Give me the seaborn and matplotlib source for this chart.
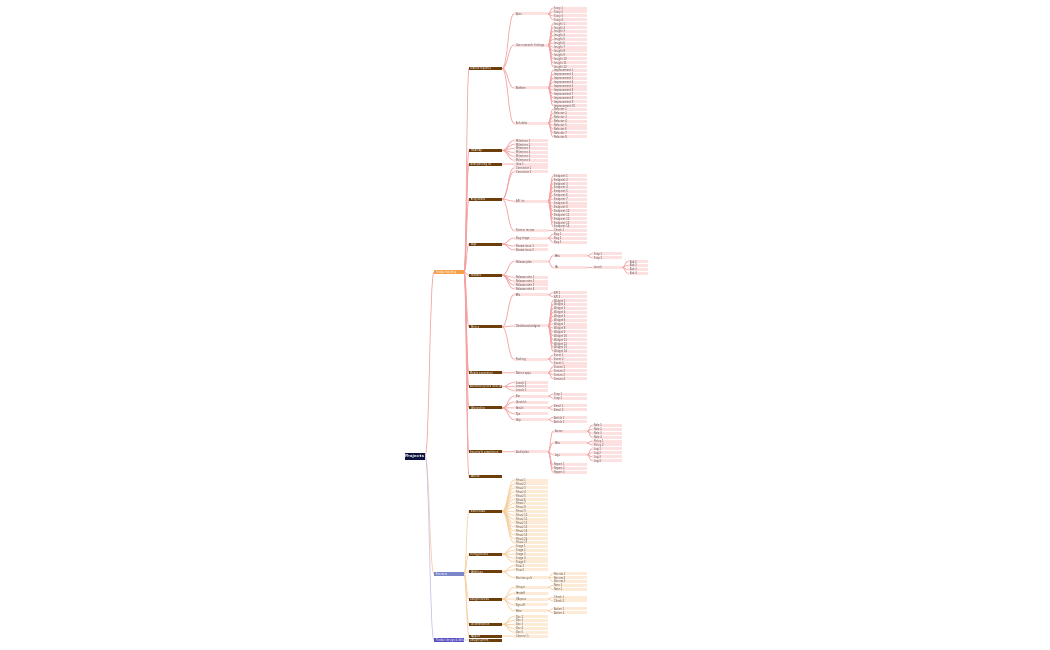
import matplotlib
matplotlib.use("Agg")
import matplotlib.pyplot as plt
import seaborn as sns
from matplotlib.path import Path
from matplotlib.patches import PathPatch, Rectangle

sns.set_theme(style="white")
plt.rcParams['font.family'] = ['DejaVu Sans']


def leaves(prefix, n):
    return [(f"{prefix} {i + 1}", []) for i in range(n)]


# mind map content (text in the reference is too small to read; labels approximated)
backlog_items = [
    ("Feature requests", [
        ("Epics", leaves("Story", 4)),
        ("User research findings", leaves("Insight", 12)),
        ("Platform", leaves("Improvement", 10)),
        ("Tech debt", leaves("Refactor", 8)),
    ]),
    ("Roadmap", leaves("Milestone", 6)),
    ("Ideas parking lot", leaves("Idea", 1)),
    ("Integrations", leaves("Connector", 2) + [("API list", leaves("Endpoint", 14)), ("Partner review", leaves("Check", 1))]),
    ("Bugs", [("Bug triage", leaves("Bug", 3))] + leaves("Known issue", 2)),
    ("Releases", [("Release plan", [("Beta", leaves("Step", 2)), ("GA", [("Launch", leaves("Task", 4))])])] + leaves("Release note", 4)),
    ("Metrics", [("KPIs", leaves("KPI", 2)), ("Dashboard widgets", leaves("Widget", 14)), ("Tracking", leaves("Event", 3))]),
    ("Mobile experience", [("Native apps", leaves("Screen", 4))]),
    ("Accessibility and localisation", leaves("Locale", 3)),
    ("Onboarding", [("Tour", leaves("Step", 2)), ("Checklist", []), ("Emails", leaves("Email", 2)), ("Tips", []), ("Help", leaves("Article", 2))]),
    ("Security & compliance", [("Audit plan", [("Access", leaves("Role", 4)), ("Data", leaves("Policy", 2)), ("Logs", leaves("Log", 4))] + leaves("Report", 3))]),
    ("Archive", []),
]
process_items = [
    ("Team rituals", leaves("Ritual", 17)),
    ("Hiring process", leaves("Stage", 5)),
    ("Workflows", leaves("Flow", 2) + [("Review cycle", leaves("Review", 3))]),
    ("Design reviews", [("Critique", leaves("Note", 2)), ("Handoff", []), ("QA pass", leaves("Check", 2)), ("Sign-off", []), ("Retro", leaves("Action", 2))]),
    ("Documentation", leaves("Doc", 5)),
    ("Support", leaves("Channel", 1)),
]
design_items = [("Design system", [])]

root_label = "Projects"
top_labels = ["Product backlog", "Processes", "Product design & delivery"]
top_colors = ["#f5a04a", "#7b86c8", "#5a50c0"]
line_colors = ["#f4a0a0", "#f8cfa0", "#c9c0f0"]
leaf_colors = ["#fde0e0", "#fdebd8", "#ece8fb"]

tree = (root_label, [(top_labels[0], backlog_items), (top_labels[1], process_items), (top_labels[2], design_items)])

COL_X = [405, 434, 469, 514, 553, 592, 628]
COL_W = [20, 30, 33, 34, 34, 30, 20]
Y0, Y1 = 8, 640


def count(node):
    return 1 if not node[1] else sum(count(c) for c in node[1])


total = count(tree)
step = (Y1 - Y0) / (total - 1)
state = {"i": 0}
node_pos = {}


def layout(node, depth, out, branch):
    if not node[1]:
        y = Y0 + state["i"] * step
        state["i"] += 1
    else:
        ys = [layout(c, depth + 1, out, branch if depth > 0 else bi) for bi, c in enumerate(node[1])]
        y = (ys[0] + ys[-1]) / 2
    out.append((node, depth, y, branch))
    node_pos[id(node)] = y
    return y


placed = []
layout(tree, 0, placed, 0)

fig, ax = plt.subplots(figsize=(10.5, 6.5), dpi=100)
fig.subplots_adjust(0, 0, 1, 1)
ax.set_xlim(0, 1050)
ax.set_ylim(650, 0)
ax.axis("off")


def curve(x0, y0, x1, y1, color):
    xm = (x0 + x1) / 2
    p = Path([(x0, y0), (xm, y0), (xm, y1), (x1, y1)], [Path.MOVETO, Path.CURVE4, Path.CURVE4, Path.CURVE4])
    ax.add_patch(PathPatch(p, fc="none", ec=color, lw=0.6))


for node, depth, y, br in placed:
    x, w = COL_X[depth], COL_W[depth]
    for c in node[1]:
        cy = node_pos[id(c)]
        cb = br if depth > 0 else top_labels.index(c[0])
        curve(x + w, y, COL_X[depth + 1], cy, line_colors[cb])

for node, depth, y, br in placed:
    x, w = COL_X[depth], COL_W[depth]
    if depth == 0:
        fc, tc, h = "#0d1440", "white", 7
    elif depth == 1:
        fc, tc, h = top_colors[br], "white", 4
    elif depth == 2:
        fc, tc, h = "#6b3e0c", "white", 3
    else:
        fc, tc, h = leaf_colors[br], "#555555", 3
    ax.add_patch(Rectangle((x, y - h / 2), w, h, fc=fc, ec="none"))
    if depth == 0:
        ax.text(x + w / 2, y, node[0], fontsize=3.2, color=tc, va="center", ha="center", fontweight="bold")
    else:
        ax.text(x + 1.5, y, node[0], fontsize=1.8, color=tc, va="center", ha="left")

fig.savefig("out.png", dpi=100)
